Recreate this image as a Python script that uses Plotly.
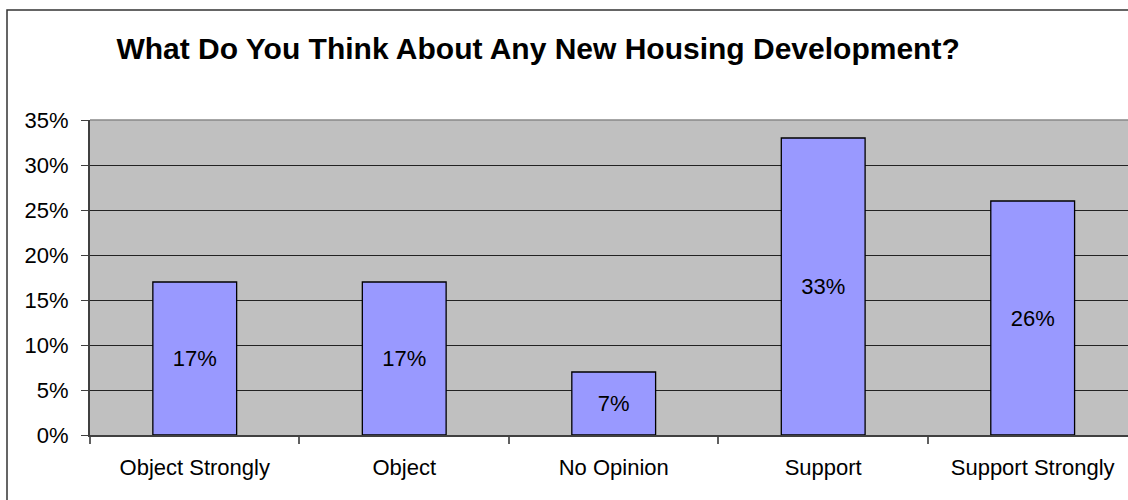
import plotly.graph_objects as go

categories = ["Object Strongly", "Object", "No Opinion", "Support", "Support Strongly"]
values = [17, 17, 7, 33, 26]
labels = [f"{v}%" for v in values]
title_text = "What Do You Think About Any New Housing Development?"

FONT = "Arial, 'Liberation Sans', sans-serif"

fig = go.Figure()
fig.add_trace(go.Bar(
    x=categories, y=values, text=labels,
    textposition="inside", insidetextanchor="middle",
    textfont=dict(family=FONT, size=22, color="black"),
    marker=dict(color="#9999FF", line=dict(color="black", width=1.3)),
    width=0.40, textangle=0, constraintext="none",
))

fig.update_layout(
    width=1128, height=500,
    margin=dict(l=90, r=0, t=120, b=65),
    paper_bgcolor="white", plot_bgcolor="#C0C0C0",
    showlegend=False,
    font=dict(family=FONT, size=22, color="black"),
    title=dict(text="<b>" + title_text + "</b>", x=0.477, xref="container", xanchor="center",
               y=1 - 48 / 500, yref="container", yanchor="middle",
               font=dict(family=FONT, size=30, color="black")),
    xaxis=dict(range=[-0.5, 4.455], showgrid=False, showline=True, linecolor="#404040", linewidth=2,
               ticks="outside", tickson="boundaries", ticklen=7, tickcolor="#606060", tickwidth=1.5,
               ticklabelstandoff=12, tickfont=dict(size=22)),
    yaxis=dict(range=[0, 35], dtick=5, ticksuffix="%", showgrid=True, gridcolor="#222222", gridwidth=1,
               zeroline=False, showline=True, linecolor="#404040", linewidth=2,
               ticks="outside", ticklen=7, tickcolor="#404040", ticklabelstandoff=8,
               tickfont=dict(size=22)),
    bargap=0.6,
)

fig.add_shape(type="line", xref="paper", yref="paper", x0=0, x1=1, y0=1, y1=1,
              line=dict(color="#888888", width=1.5))
fig.add_shape(type="rect", xref="paper", yref="paper",
              x0=(7 - 90) / 1038, x1=1.05, y0=-0.3, y1=(435 - 10) / 315,
              line=dict(color="#333333", width=1.5), layer="below")

fig.write_html("out.html")
